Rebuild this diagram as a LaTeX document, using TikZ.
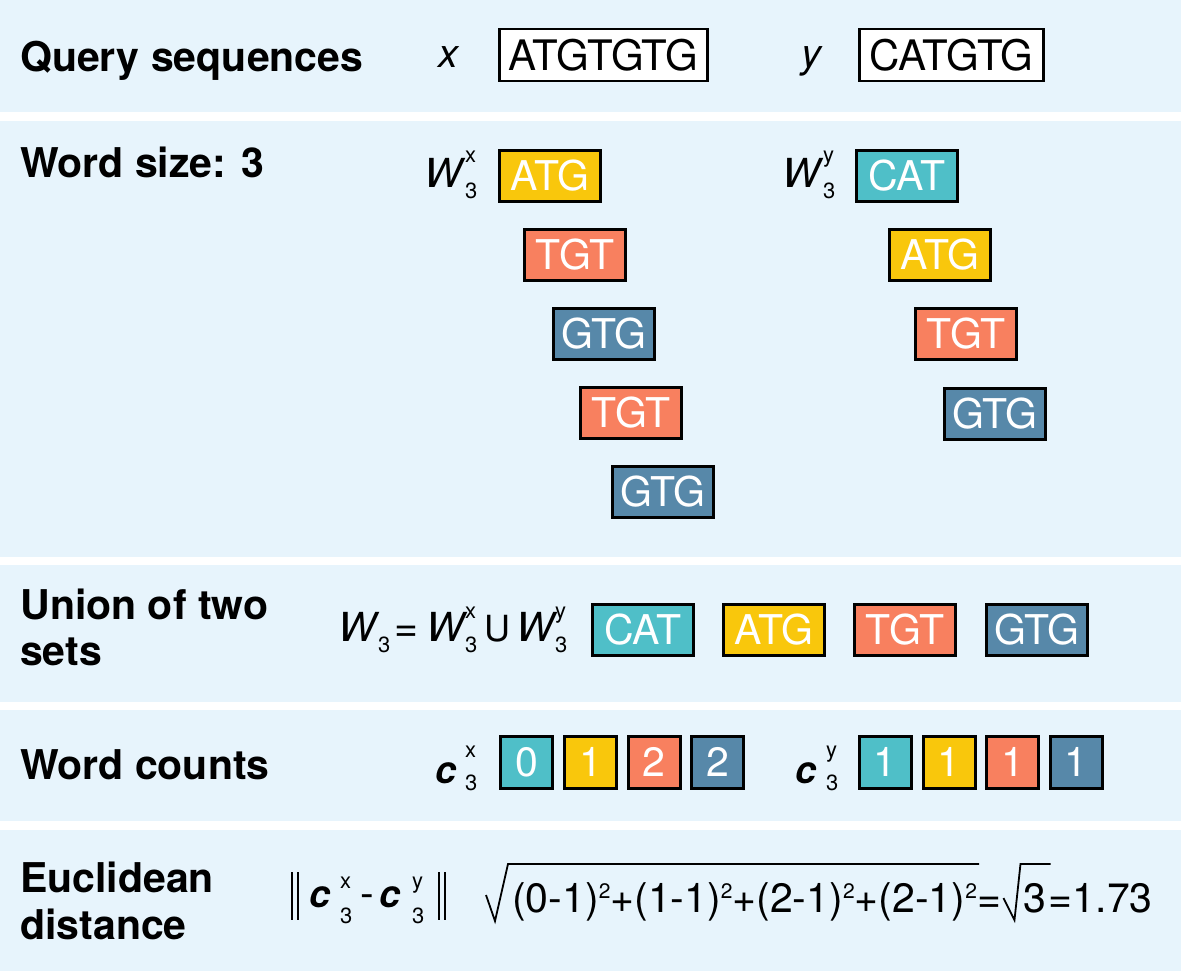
\documentclass[tikz,border=0pt]{standalone}
\usepackage{fontspec}
\setmainfont{TeX Gyre Heros}
\usetikzlibrary{calc}
\definecolor{bg}{HTML}{E7F4FC}
\definecolor{cyel}{HTML}{F9C70C}
\definecolor{csal}{HTML}{F8805F}
\definecolor{ctea}{HTML}{4FBFC8}
\definecolor{cblu}{HTML}{5788A9}
\newcommand\sqtwo{\raisebox{14pt}{\fontsize{21}{21}\selectfont 2}}
\begin{document}
\begin{tikzpicture}[x=1pt,y=-1pt,
  lab/.style={anchor=base west,inner sep=0pt,font=\fontsize{41}{44}\selectfont\bfseries},
  mv/.style={anchor=base west,inner sep=0pt,font=\fontsize{40}{44}\selectfont\itshape},
  mc/.style={anchor=base west,inner sep=0pt,font=\fontsize{38}{44}\selectfont\bfseries\itshape},
  ss/.style={anchor=base west,inner sep=0pt,font=\fontsize{22}{24}\selectfont},
  txt/.style={anchor=base west,inner sep=0pt,font=\fontsize{41}{44}\selectfont},
  seqbox/.style={draw=black,line width=2.5pt,fill=white,inner sep=0pt,minimum height=52pt,font=\fontsize{42}{44}\selectfont},
  wbox/.style={draw=black,line width=3pt,inner sep=0pt,minimum width=101pt,minimum height=51pt,text=white,font=\fontsize{41}{44}\selectfont},
  cbox/.style={draw=black,line width=3pt,inner sep=0pt,minimum width=52pt,minimum height=52pt,text=white,font=\fontsize{41}{44}\selectfont},
  kA/.style={fill=ctea},kB/.style={fill=cyel},kC/.style={fill=csal},kD/.style={fill=cblu},
  rad/.style={line width=1.8pt,line join=miter},
  bar/.style={line width=2pt}
]
\useasboundingbox (0,0) rectangle (1181,971);
\fill[white] (0,0) rectangle (1181,971);
\fill[bg] (0,0) rectangle (1181,112);
\fill[bg] (0,121) rectangle (1181,557);
\fill[bg] (0,565) rectangle (1181,702);
\fill[bg] (0,710) rectangle (1181,821);
\fill[bg] (0,830) rectangle (1181,971);

% labels
\node[lab] (q) at (20,72) {Query sequences};
\node[lab] (ws) at (20,178) {Word size: 3};
\node[lab] (u1) at (20,619) {Union of two};
\node[lab] (u2) at (20,665) {sets};
\node[lab] (wc) at (20,779) {Word counts};
\node[lab] (e1) at (20,892) {Euclidean};
\node[lab] (e2) at (20,939) {distance};

% query sequences
\node[mv] (xv) at (438,68) {x};
\node[seqbox,minimum width=208pt] (sx) at (603.5,55) {ATGTGTG};
\node[mv] (yv) at (801,68) {y};
\node[seqbox,minimum width=184pt] (sy) at (951.5,55) {CATGTG};

% word size
\node[mv] (w1) at (424,187) {W};
\node[ss] (w1s) at (465,163) {x};
\node[ss] (w1b) at (465,198) {3};
\node[wbox,kB] (a1) at (550,176) {ATG};
\node[wbox,kC] (a2) at (575,255) {TGT};
\node[wbox,kD] (a3) at (604,334) {GTG};
\node[wbox,kC] (a4) at (631,413) {TGT};
\node[wbox,kD] (a5) at (663,492) {GTG};

\node[mv] (w2) at (782,187) {W};
\node[ss] (w2s) at (823,163) {y};
\node[ss] (w2b) at (823,198) {3};
\node[wbox,kA] (b1) at (907,176) {CAT};
\node[wbox,kB] (b2) at (940,255) {ATG};
\node[wbox,kC] (b3) at (966,334) {TGT};
\node[wbox,kD] (b4) at (995,414) {GTG};

% union
\node[mv] (uw) at (338,641) {W};
\node[ss] (uwb) at (378,652) {3};
\node[txt] (ueq) at (394,641) {=};
\node[mv] (uw1) at (426,641) {W};
\node[ss] (uw1s) at (465,618) {x};
\node[ss] (uw1b) at (465,652) {3};
\node[txt,font=\fontsize{36}{40}\selectfont] (uu) at (484,641) {U};
\node[mv] (uw2) at (516,641) {W};
\node[ss] (uw2s) at (555,618) {y};
\node[ss] (uw2b) at (555,652) {3};
\node[wbox,kA] (u1b) at (643,630) {CAT};
\node[wbox,kB] (u2b) at (774,630) {ATG};
\node[wbox,kC] (u3b) at (905,630) {TGT};
\node[wbox,kD] (u4b) at (1037,630) {GTG};

% word counts
\node[mc] (cx) at (435,783) {c};
\node[ss] (cxs) at (465,757) {x};
\node[ss] (cxb) at (465,790) {3};
\node[cbox,kA] (x1) at (526.5,762) {0};
\node[cbox,kB] (x2) at (590.5,762) {1};
\node[cbox,kC] (x3) at (654,762) {2};
\node[cbox,kD] (x4) at (717.5,762) {2};
\node[mc] (cy) at (795,783) {c};
\node[ss] (cys) at (826,757) {y};
\node[ss] (cyb) at (826,790) {3};
\node[cbox,kA] (y1) at (885,762) {1};
\node[cbox,kB] (y2) at (949,762) {1};
\node[cbox,kC] (y3) at (1012.5,762) {1};
\node[cbox,kD] (y4) at (1076,762) {1};

% euclidean distance
\draw[bar] (292,872) -- (292,920);
\draw[bar] (298,872) -- (298,920);
\node[mc] (dc1) at (309,907) {c};
\node[ss] (dc1s) at (340,888) {x};
\node[ss] (dc1b) at (340,923) {3};
\node[txt] (dm) at (360,907) {-};
\node[mc] (dc2) at (379,907) {c};
\node[ss] (dc2s) at (412,888) {y};
\node[ss] (dc2b) at (412,923) {3};
\draw[bar] (439,872) -- (439,920);
\draw[bar] (445,872) -- (445,920);

\node[txt] (ex) at (512,912) {(0-1)\sqtwo+(1-1)\sqtwo+(2-1)\sqtwo+(2-1)\sqtwo};
\draw[rad] ($(ex.base west)+(-26,-17)$) -- ($(ex.base west)+(-17,9)$) -- ($(ex.base west)+(-4,-48)$) -- ($(ex.base east)+(2,-48)$);
\node[txt] (eq1) at (ex.base east) {=};
\node[txt] (three) at ($(eq1.base east)+(22,0)$) {3};
\draw[rad] ($(three.base west)+(-20,-14)$) -- ($(three.base west)+(-9,8)$) -- ($(three.base west)+(-3,-48)$) -- ($(three.base east)+(4,-48)$);
\node[txt] (res) at ($(three.base east)+(2,0)$) {=1.73};
\end{tikzpicture}
\end{document}
